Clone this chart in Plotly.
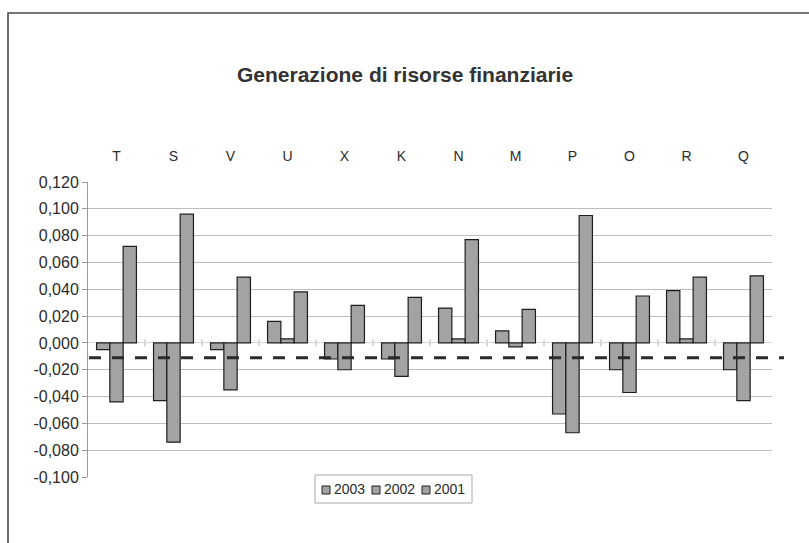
import plotly.graph_objects as go

# Generazione di risorse finanziarie per azienda, tre esercizi
aziende = ["T", "S", "V", "U", "X", "K", "N", "M", "P", "O", "R", "Q"]
anni = ["2003", "2002", "2001"]
v2003 = [-0.005, -0.043, -0.005, 0.016, -0.012, -0.012, 0.026, 0.009, -0.053, -0.020, 0.039, -0.020]
v2002 = [-0.044, -0.074, -0.035, 0.003, -0.020, -0.025, 0.003, -0.003, -0.067, -0.037, 0.003, -0.043]
v2001 = [0.072, 0.096, 0.049, 0.038, 0.028, 0.034, 0.077, 0.025, 0.095, 0.035, 0.049, 0.050]
soglia = -0.011  # linea tratteggiata di riferimento

y_ticks = [0.12, 0.10, 0.08, 0.06, 0.04, 0.02, 0.0, -0.02, -0.04, -0.06, -0.08, -0.10]
y_labels = ["0,120", "0,100", "0,080", "0,060", "0,040", "0,020", "0,000",
            "-0,020", "-0,040", "-0,060", "-0,080", "-0,100"]

W, H = 809, 543
L, R, T, B = 88, 37, 182, 66
pw, ph = W - L - R, H - T - B

BAR_FILL = "#a3a3a3"
BAR_EDGE = "#1e1e1e"
TEXT = "#2b2b2b"

fig = go.Figure()
for anno, vals in zip(anni, [v2003, v2002, v2001]):
    fig.add_trace(go.Bar(
        x=aziende, y=vals, name=anno, showlegend=False,
        marker=dict(color=BAR_FILL, line=dict(color=BAR_EDGE, width=1.2)),
    ))

def px_x(p):
    return (p - L) / pw

def px_y(p):
    return (H - B - p) / ph

shapes = [
    # cornice esterna
    dict(type="rect", xref="paper", yref="paper",
         x0=px_x(8), x1=px_x(830), y0=px_y(570), y1=px_y(13),
         line=dict(color="#4a4a4a", width=1.6), fillcolor="rgba(0,0,0,0)", layer="below"),
    # linea di riferimento tratteggiata
    dict(type="line", xref="paper", yref="y",
         x0=px_x(89), x1=px_x(784), y0=soglia, y1=soglia,
         line=dict(color="#2a2a2a", width=3, dash="12px,11px"), layer="above"),
    # riquadro della legenda
    dict(type="rect", xref="paper", yref="paper",
         x0=px_x(315), x1=px_x(472), y0=px_y(503), y1=px_y(475),
         line=dict(color="#a8a8a8", width=1), fillcolor="white", layer="above"),
]
# tacche tra le categorie sull'asse dello zero
for i in range(1, len(aziende)):
    shapes.append(dict(type="line", xref="x", yref="y",
                       x0=i - 0.5, x1=i - 0.5, y0=-0.0025, y1=0.0025,
                       line=dict(color="#b0b0b0", width=1), layer="below"))

annotations = [dict(text="<b>Generazione di risorse finanziarie</b>", xref="paper", yref="paper",
                    x=px_x(405), y=px_y(75), xanchor="center", yanchor="middle",
                    showarrow=False, font=dict(size=21, color="#333333"))]

# voci della legenda: quadratino + anno
for k, anno in enumerate(anni):
    sx = 322 + 50 * k
    shapes.append(dict(type="rect", xref="paper", yref="paper",
                       x0=px_x(sx), x1=px_x(sx + 8), y0=px_y(494), y1=px_y(486),
                       line=dict(color=BAR_EDGE, width=1), fillcolor=BAR_FILL, layer="above"))
    annotations.append(dict(text=anno, xref="paper", yref="paper",
                            x=px_x(sx + 10), y=px_y(489), xanchor="left", yanchor="middle",
                            showarrow=False, font=dict(size=14, color=TEXT)))

fig.update_layout(
    width=W, height=H,
    margin=dict(l=L, r=R, t=T, b=B, autoexpand=False),
    paper_bgcolor="white", plot_bgcolor="white",
    barmode="group", bargap=0.3, bargroupgap=0,
    font=dict(family="Liberation Sans, Arial, sans-serif", color=TEXT, size=14),
    showlegend=False,
    shapes=shapes,
    annotations=annotations,
)
fig.update_xaxes(side="top", showgrid=False, showline=False, ticks="",
                 ticklabelstandoff=17, tickfont=dict(size=14, color=TEXT))
fig.update_yaxes(range=[-0.10, 0.12], tickvals=y_ticks, ticktext=y_labels,
                 showgrid=True, gridcolor="#bdbdbd", gridwidth=1,
                 zeroline=True, zerolinecolor="#d8d8d8", zerolinewidth=1,
                 showline=True, linecolor="#9a9a9a", linewidth=1,
                 ticks="outside", ticklen=5, tickcolor="#9a9a9a",
                 tickfont=dict(size=16, color=TEXT))

fig.write_html("out.html")
